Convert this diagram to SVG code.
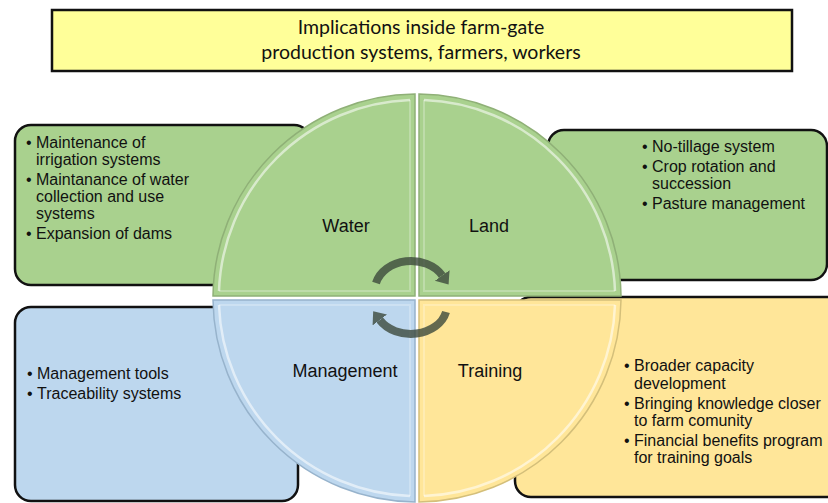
<svg xmlns="http://www.w3.org/2000/svg" width="828" height="503" viewBox="0 0 828 503">
  <style>
    .box { stroke: #111; stroke-width: 2.5; }
    .green { fill: #a9d18e; }
    .blue { fill: #bdd7ee; }
    .yellow { fill: #ffe699; }
    .item { font-family: "Liberation Sans", Arial, sans-serif; font-size: 16px; fill: #111; }
    .label { font-family: "Liberation Sans", Arial, sans-serif; font-size: 18px; fill: #111; text-anchor: middle; }
    .title { font-family: Lato, "Open Sans", sans-serif; font-size: 19.5px; fill: #111; text-anchor: middle; }
    .quad-edge { fill: none; stroke-width: 1.5; }
    .shine { fill: none; stroke: #ffffff; stroke-opacity: 0.55; stroke-width: 2.5; }
    .shine-soft { fill: none; stroke: #ffffff; stroke-opacity: 0.25; stroke-width: 2; }
    .cycle { fill: none; stroke: #3c4a3c; stroke-opacity: 0.8; stroke-width: 8; }
  </style>
  <defs>
    <marker id="head" markerUnits="userSpaceOnUse" markerWidth="14" markerHeight="22" viewBox="0 -11 14 22" refX="0" refY="0" orient="auto">
      <path d="M0,-9 L11,0 L0,9 Z" fill="#3c4a3c" fill-opacity="0.8"/>
    </marker>
  </defs>

  <rect width="828" height="503" fill="#ffffff"/>

  <!-- heading banner -->
  <g id="title">
    <rect x="52" y="10" width="740" height="61" fill="#ffff99" stroke="#111" stroke-width="2.5"/>
    <text class="title" x="421" y="34">Implications inside farm-gate</text>
    <text class="title" x="421" y="59">production systems, farmers, workers</text>
  </g>

  <!-- detail boxes -->
  <g id="water-box">
    <rect class="box green" x="15" y="125" width="295" height="160" rx="16"/>
    <text class="item" x="26" y="148">•</text>
    <text class="item" x="36" y="148">Maintenance of</text>
    <text class="item" x="36" y="165">irrigation systems</text>
    <text class="item" x="26" y="185">•</text>
    <text class="item" x="36" y="185">Maintanance of water</text>
    <text class="item" x="36" y="202">collection and use</text>
    <text class="item" x="36" y="219">systems</text>
    <text class="item" x="26" y="239">•</text>
    <text class="item" x="36" y="239">Expansion of dams</text>
  </g>

  <g id="land-box">
    <rect class="box green" x="548" y="130" width="279" height="150" rx="16"/>
    <text class="item" x="642" y="152">•</text>
    <text class="item" x="652" y="152">No-tillage system</text>
    <text class="item" x="642" y="172">•</text>
    <text class="item" x="652" y="172">Crop rotation and</text>
    <text class="item" x="652" y="189">succession</text>
    <text class="item" x="642" y="209">•</text>
    <text class="item" x="652" y="209">Pasture management</text>
  </g>

  <g id="management-box">
    <rect class="box blue" x="15" y="307" width="283" height="194" rx="16"/>
    <text class="item" x="27" y="379">•</text>
    <text class="item" x="37" y="379">Management tools</text>
    <text class="item" x="27" y="399">•</text>
    <text class="item" x="37" y="399">Traceability systems</text>
  </g>

  <g id="training-box">
    <rect class="box yellow" x="515" y="297" width="330" height="200" rx="16"/>
    <text class="item" x="624" y="371">•</text>
    <text class="item" x="634" y="371">Broader capacity</text>
    <text class="item" x="634" y="389">development</text>
    <text class="item" x="624" y="409">•</text>
    <text class="item" x="634" y="409">Bringing knowledge closer</text>
    <text class="item" x="634" y="426">to farm comunity</text>
    <text class="item" x="624" y="446">•</text>
    <text class="item" x="634" y="446">Financial benefits program</text>
    <text class="item" x="634" y="463">for training goals</text>
  </g>

  <!-- four-part wheel -->
  <g id="water">
    <path class="green" d="M415,296 L415,94 A204,204 0 0 0 213,296 Z"/>
    <path class="quad-edge" stroke="#8fb077" d="M415,296 L415,94 A204,204 0 0 0 213,296 Z"/>
    <path class="shine" d="M410,100 A198,198 0 0 0 219,291"/>
    <path class="shine-soft" d="M219,291 L410,291 L410,100"/>
    <text class="label" x="346" y="232">Water</text>
  </g>
  <g id="land">
    <path class="green" d="M419,296 L621,296 A204,204 0 0 0 419,94 Z"/>
    <path class="quad-edge" stroke="#8fb077" d="M419,296 L621,296 A204,204 0 0 0 419,94 Z"/>
    <path class="shine" d="M615,291 A198,198 0 0 0 424,100"/>
    <path class="shine-soft" d="M424,100 L424,291 L615,291"/>
    <text class="label" x="489" y="232">Land</text>
  </g>
  <g id="management">
    <path class="blue" d="M415,300 L213,300 A204,204 0 0 0 415,502 Z"/>
    <path class="quad-edge" stroke="#97b3cc" d="M415,300 L213,300 A204,204 0 0 0 415,502 Z"/>
    <path class="shine" d="M219,305 A198,198 0 0 0 410,496"/>
    <path class="shine-soft" d="M410,496 L410,305 L219,305"/>
    <text class="label" x="345" y="377">Management</text>
  </g>
  <g id="training">
    <path class="yellow" d="M419,300 L419,502 A204,204 0 0 0 621,300 Z"/>
    <path class="quad-edge" stroke="#d4bf7a" d="M419,300 L419,502 A204,204 0 0 0 621,300 Z"/>
    <path class="shine" d="M424,496 A198,198 0 0 0 615,305"/>
    <path class="shine-soft" d="M615,305 L424,305 L424,496"/>
    <text class="label" x="490" y="377">Training</text>
  </g>

  <!-- cycle arrows -->
  <g id="connectors">
    <path class="cycle" d="M376,283 A36,29 0 0 1 442.2,275.5" marker-end="url(#head)"/>
    <path class="cycle" d="M446,312 A36,28 0 0 1 379.8,320" marker-end="url(#head)"/>
  </g>
</svg>
